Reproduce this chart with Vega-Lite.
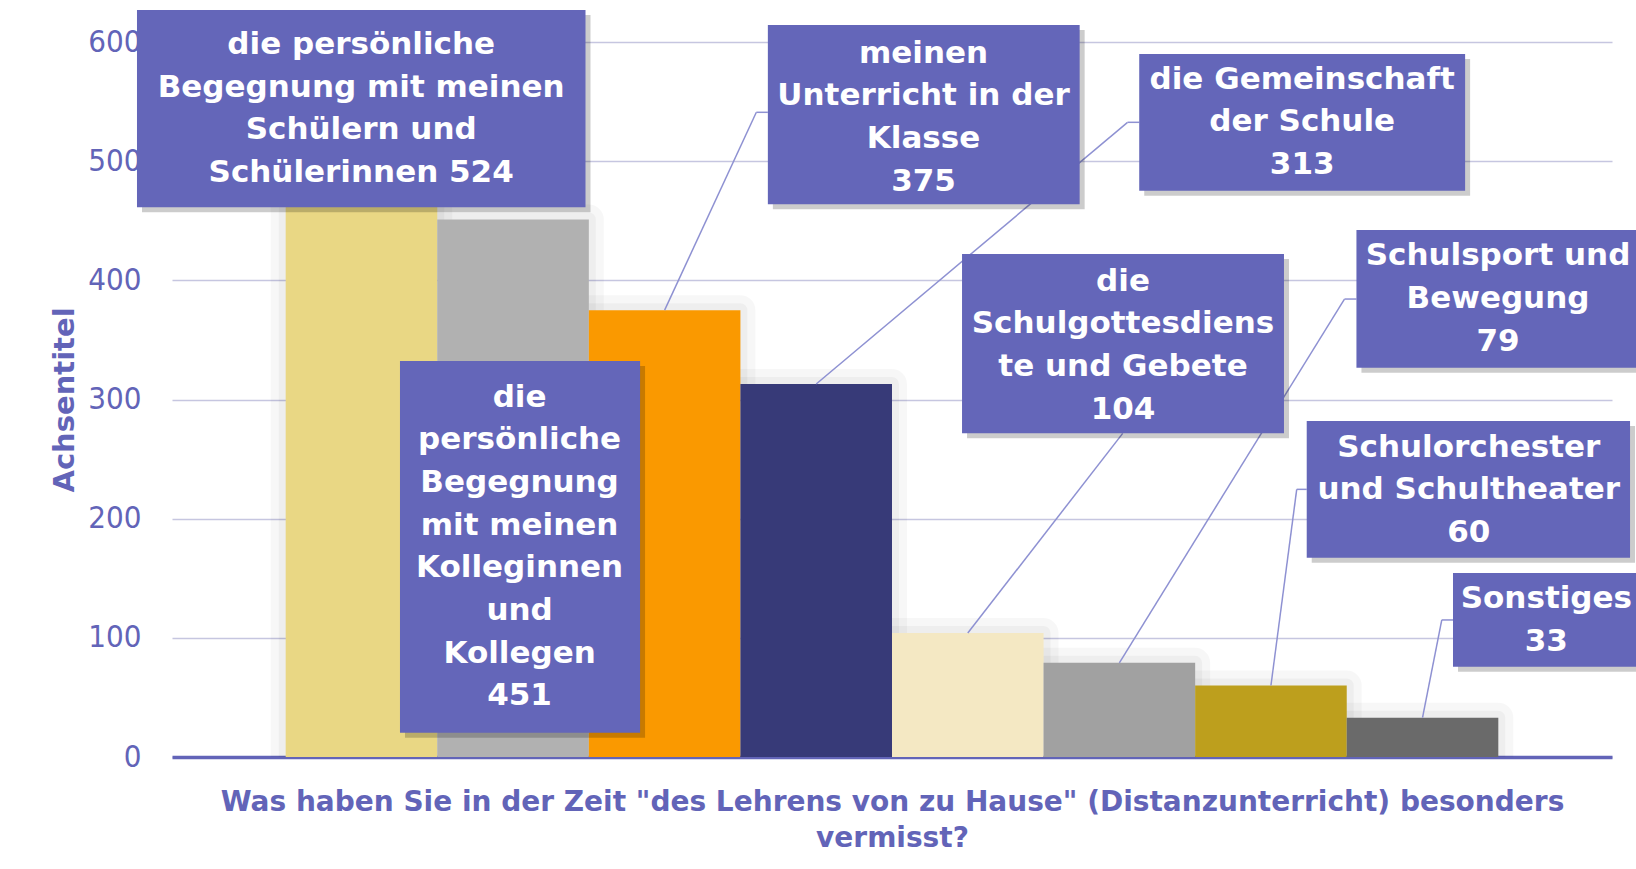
{
  "$schema": "https://vega.github.io/schema/vega-lite/v6.json",
  "width": 1440,
  "height": 715,
  "autosize": {"type": "none"},
  "padding": {"left": 172, "top": 42, "right": 24, "bottom": 112},
  "background": "#ffffff",
  "config": {"view": {"stroke": null}, "font": "DejaVu Sans"},
  "datasets": {
    "balken": [
      {"kategorie": "die persönliche Begegnung mit meinen Schülern und Schülerinnen", "anzahl": 524},
      {"kategorie": "die persönliche Begegnung mit meinen Kolleginnen und Kollegen", "anzahl": 451},
      {"kategorie": "meinen Unterricht in der Klasse", "anzahl": 375},
      {"kategorie": "die Gemeinschaft der Schule", "anzahl": 313},
      {"kategorie": "die Schulgottesdienste und Gebete", "anzahl": 104},
      {"kategorie": "Schulsport und Bewegung", "anzahl": 79},
      {"kategorie": "Schulorchester und Schultheater", "anzahl": 60},
      {"kategorie": "Sonstiges", "anzahl": 33}
    ],
    "beschriftung": [
      {"i": 0, "anzahl": 524, "zeilen": ["die persönliche", "Begegnung mit meinen", "Schülern und", "Schülerinnen 524"], "x1": -1.481, "x2": 1.478, "y1": 461.3, "y2": 626.9, "tx": -0.002, "ty": 597.5},
      {"i": 1, "anzahl": 451, "zeilen": ["die", "persönliche", "Begegnung", "mit meinen", "Kolleginnen", "und", "Kollegen", "451"], "x1": 0.254, "x2": 1.838, "y1": 20.4, "y2": 332.3, "tx": 1.043, "ty": 301.6},
      {"i": 2, "anzahl": 375, "zeilen": ["meinen", "Unterricht in der", "Klasse", "375"], "x1": 2.681, "x2": 4.738, "y1": 463.8, "y2": 614.3, "tx": 3.708, "ty": 590.2, "ax": 2.681, "ay": 541.0, "ex": 2.605, "ey": 541.0},
      {"i": 3, "anzahl": 313, "zeilen": ["die Gemeinschaft", "der Schule", "313"], "x1": 5.131, "x2": 7.281, "y1": 475.2, "y2": 589.9, "tx": 6.206, "ty": 568.4, "ax": 5.131, "ay": 532.6, "ex": 5.054, "ey": 532.6},
      {"i": 4, "anzahl": 104, "zeilen": ["die", "Schulgottesdiens", "te und Gebete", "104"], "x1": 3.962, "x2": 6.086, "y1": 271.6, "y2": 422.1, "tx": 5.024, "ty": 398.8, "ax": 5.022, "ay": 271.6, "ex": 5.022, "ey": 271.6},
      {"i": 5, "anzahl": 79, "zeilen": ["Schulsport und", "Bewegung", "79"], "x1": 6.564, "x2": 8.441, "y1": 326.7, "y2": 442.2, "tx": 7.498, "ty": 420.2, "ax": 6.564, "ay": 384.3, "ex": 6.485, "ey": 384.3},
      {"i": 6, "anzahl": 60, "zeilen": ["Schulorchester", "und Schultheater", "60"], "x1": 6.236, "x2": 8.369, "y1": 167.2, "y2": 282.0, "tx": 7.305, "ty": 259.7, "ax": 6.236, "ay": 224.6, "ex": 6.17, "ey": 224.6},
      {"i": 7, "anzahl": 33, "zeilen": ["Sonstiges", "33"], "x1": 7.201, "x2": 8.441, "y1": 75.8, "y2": 154.4, "tx": 7.817, "ty": 132.4, "ax": 7.201, "ay": 115.0, "ex": 7.127, "ey": 115.0}
    ]
  },
  "layer": [
    {
      "data": {"name": "balken"},
      "mark": {"type": "bar", "clip": true, "fillOpacity": 0, "stroke": "#000000", "strokeOpacity": 0.03, "strokeWidth": 30, "strokeJoin": "round"},
      "encoding": {
        "x": {
          "field": "kategorie", "type": "nominal", "sort": null,
          "scale": {"paddingInner": 0, "paddingOuter": 0.75},
          "axis": {
            "labels": false, "ticks": false,
            "domainColor": "#6264B8", "domainWidth": 3.5,
            "title": ["Was haben Sie in der Zeit \"des Lehrens von zu Hause\" (Distanzunterricht) besonders", "vermisst?"],
            "titleFont": "DejaVu Sans", "titleFontSize": 28, "titleFontWeight": "bold",
            "titleColor": "#6264B8", "titleLineHeight": 36.5, "titlePadding": 31
          }
        },
        "y": {
          "field": "anzahl", "type": "quantitative",
          "scale": {"domain": [0, 600], "nice": false},
          "axis": {
            "values": [0, 100, 200, 300, 400, 500, 600],
            "grid": true, "gridColor": "#C6C6E0", "gridWidth": 1.5,
            "domain": false, "ticks": false,
            "labelFont": "DejaVu Sans Condensed", "labelFontSize": 31, "labelColor": "#6264B8", "labelPadding": 31,
            "title": "Achsentitel", "titleFont": "DejaVu Sans", "titleFontSize": 29, "titleFontWeight": "bold",
            "titleColor": "#6264B8", "titlePadding": 8
          }
        }
      }
    },
    {
      "data": {"name": "balken"},
      "mark": {"type": "bar", "clip": true, "fillOpacity": 0, "stroke": "#000000", "strokeOpacity": 0.035, "strokeWidth": 14, "strokeJoin": "round"},
      "encoding": {
        "x": {"field": "kategorie", "type": "nominal", "sort": null, "scale": {"paddingInner": 0, "paddingOuter": 0.75}, "axis": null},
        "y": {"field": "anzahl", "type": "quantitative", "scale": {"domain": [0, 600], "nice": false}, "axis": null}
      }
    },
    {
      "data": {"name": "balken"},
      "mark": {"type": "bar"},
      "encoding": {
        "x": {"field": "kategorie", "type": "nominal", "sort": null, "scale": {"paddingInner": 0, "paddingOuter": 0.75}, "axis": null},
        "y": {"field": "anzahl", "type": "quantitative", "scale": {"domain": [0, 600], "nice": false}, "axis": null},
        "color": {
          "field": "kategorie", "type": "nominal", "sort": null, "legend": null,
          "scale": {
            "domain": [
              "die persönliche Begegnung mit meinen Schülern und Schülerinnen",
              "die persönliche Begegnung mit meinen Kolleginnen und Kollegen",
              "meinen Unterricht in der Klasse",
              "die Gemeinschaft der Schule",
              "die Schulgottesdienste und Gebete",
              "Schulsport und Bewegung",
              "Schulorchester und Schultheater",
              "Sonstiges"
            ],
            "range": ["#E9D784", "#B1B1B1", "#FA9900", "#373A78", "#F4E8C3", "#A1A1A1", "#BD9F1D", "#6A6A6A"]
          }
        }
      }
    },
    {
      "data": {"name": "beschriftung"},
      "transform": [{"filter": "isValid(datum.ex)"}],
      "mark": {"type": "rule", "color": "#8E91D2", "strokeWidth": 1.5},
      "encoding": {
        "x": {"field": "ex", "type": "quantitative", "scale": {"domain": [-1.25, 8.25], "nice": false, "zero": false}, "axis": null},
        "x2": {"field": "i"},
        "y": {"field": "ey", "type": "quantitative", "scale": {"domain": [0, 600], "nice": false}, "axis": null},
        "y2": {"field": "anzahl"}
      }
    },
    {
      "data": {"name": "beschriftung"},
      "transform": [{"filter": "isValid(datum.ex)"}],
      "mark": {"type": "rule", "color": "#8E91D2", "strokeWidth": 1.5},
      "encoding": {
        "x": {"field": "ax", "type": "quantitative", "scale": {"domain": [-1.25, 8.25], "nice": false, "zero": false}, "axis": null},
        "x2": {"field": "ex"},
        "y": {"field": "ay", "type": "quantitative", "scale": {"domain": [0, 600], "nice": false}, "axis": null},
        "y2": {"field": "ey"}
      }
    },
    {
      "data": {"name": "beschriftung"},
      "mark": {"type": "rect", "color": "#000000", "opacity": 0.2, "xOffset": 5, "x2Offset": 5, "yOffset": 5, "y2Offset": 5},
      "encoding": {
        "x": {"field": "x1", "type": "quantitative", "scale": {"domain": [-1.25, 8.25], "nice": false, "zero": false}, "axis": null},
        "x2": {"field": "x2"},
        "y": {"field": "y1", "type": "quantitative", "scale": {"domain": [0, 600], "nice": false}, "axis": null},
        "y2": {"field": "y2"}
      }
    },
    {
      "data": {"name": "beschriftung"},
      "mark": {"type": "rect", "color": "#6466B9", "opacity": 1},
      "encoding": {
        "x": {"field": "x1", "type": "quantitative", "scale": {"domain": [-1.25, 8.25], "nice": false, "zero": false}, "axis": null},
        "x2": {"field": "x2"},
        "y": {"field": "y1", "type": "quantitative", "scale": {"domain": [0, 600], "nice": false}, "axis": null},
        "y2": {"field": "y2"}
      }
    },
    {
      "data": {"name": "beschriftung"},
      "mark": {"type": "text", "color": "#FFFFFF", "font": "DejaVu Sans", "fontSize": 31, "fontWeight": "bold", "lineHeight": 42.7, "align": "center", "baseline": "middle"},
      "encoding": {
        "x": {"field": "tx", "type": "quantitative", "scale": {"domain": [-1.25, 8.25], "nice": false, "zero": false}, "axis": null},
        "y": {"field": "ty", "type": "quantitative", "scale": {"domain": [0, 600], "nice": false}, "axis": null},
        "text": {"field": "zeilen"}
      }
    }
  ],
  "resolve": {"scale": {"x": "independent"}, "axis": {"x": "independent", "y": "independent"}}
}
